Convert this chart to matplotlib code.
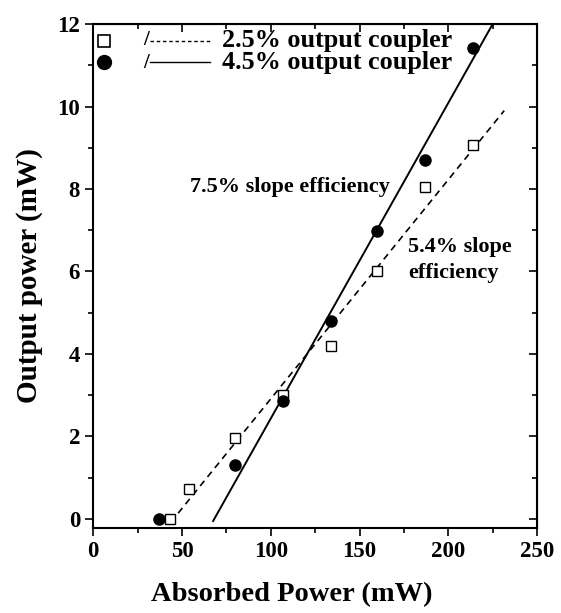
import numpy as np
import matplotlib
matplotlib.use('Agg')
import matplotlib.pyplot as plt
from matplotlib.ticker import MultipleLocator

# Dane
p_abs_25 = [43, 54, 80, 107, 134, 160, 187, 214]
p_out_25 = [0.0, 0.72, 1.97, 3.0, 4.2, 6.02, 8.04, 9.07]
p_abs_45 = [37, 80, 107, 134, 160, 187, 214]
p_out_45 = [0.0, 1.3, 2.85, 4.8, 6.97, 8.7, 11.42]

# Proste dopasowania (końce odcinków)
fit_x_25 = [47.8, 231.5]
fit_y_25 = [0.14, 9.9]
fit_x_45 = [67.5, 225.0]
fit_y_45 = [-0.05, 12.0]

legend_labels = ['2.5% output coupler', '4.5% output coupler']

plt.rcParams['font.family'] = ['Liberation Serif', 'DejaVu Serif']
plt.rcParams['font.weight'] = 'bold'

fig = plt.figure(figsize=(5.61, 6.13), dpi=100)
ax = fig.add_axes([0.1663, 0.1386, 0.791, 0.8222])

ax.plot(fit_x_25, fit_y_25, color='black', lw=1.2, ls=(0, (4, 3)))
ax.plot(fit_x_45, fit_y_45, color='black', lw=1.4, ls='-')
ax.plot(p_abs_25, p_out_25, ls='none', marker='s', ms=7.2, mfc='white',
        mec='black', mew=1.0)
ax.plot(p_abs_45, p_out_45, ls='none', marker='o', ms=8, mfc='black',
        mec='black')

ax.set_xlim(0, 250)
ax.set_ylim(-0.22, 12)
ax.xaxis.set_major_locator(MultipleLocator(50))
ax.xaxis.set_minor_locator(MultipleLocator(25))
ax.yaxis.set_major_locator(MultipleLocator(2))
ax.yaxis.set_minor_locator(MultipleLocator(1))
ax.tick_params(which='both', direction='out', width=1.2)
ax.tick_params(which='major', length=6, labelsize=16.5)
ax.tick_params(which='minor', length=3.5)

# górna i prawa oś z kreskami do środka
for spine in ax.spines.values():
    spine.set_linewidth(1.5)
top = ax.secondary_xaxis('top')
top.xaxis.set_major_locator(MultipleLocator(50))
top.xaxis.set_minor_locator(MultipleLocator(25))
top.tick_params(which='both', direction='in', labeltop=False, width=1.2)
top.tick_params(which='major', length=6)
top.tick_params(which='minor', length=3.5)
right = ax.secondary_yaxis('right')
right.yaxis.set_major_locator(MultipleLocator(2))
right.yaxis.set_minor_locator(MultipleLocator(1))
right.tick_params(which='both', direction='in', labelright=False, width=1.2)
right.tick_params(which='major', length=6)
right.tick_params(which='minor', length=3.5)

ax.set_xlabel('Absorbed Power (mW)', fontsize=20.5, fontweight='bold')
ax.xaxis.set_label_coords(0.448, -0.107)
ax.set_ylabel('Output power (mW)', fontsize=21, fontweight='bold', labelpad=10)

# Legenda rysowana ręcznie
tr = ax.transAxes
rows = [0.966, 0.925]
ax.plot([0.024], [rows[0]], transform=tr, marker='s', ms=9, mfc='white',
        mec='black', mew=1.2, ls='none')
ax.plot([0.024], [rows[1]], transform=tr, marker='o', ms=10, color='black',
        ls='none')
for row, style in zip(rows, [(0, (2.5, 2)), '-']):
    ax.plot([0.128, 0.263], [row, row], transform=tr, color='black', lw=1.0,
            ls=style)
ax.text(0.118, np.mean(rows), '/\n/', transform=tr, ha='center', va='center',
        fontsize=15, linespacing=1.17)
ax.text(0.29, np.mean(rows), '\n'.join(legend_labels), transform=tr,
        ha='left', va='center', fontsize=18.8, fontweight='bold',
        linespacing=0.97)

ax.text(167, 8.05, '7.5% slope efficiency', ha='right', va='center',
        fontsize=16, fontweight='bold')
ax.text(177.5, 6.28, '5.4% slope\nefficiency', ha='left', va='center',
        fontsize=16, fontweight='bold', linespacing=1.35)

fig.savefig('out.png', dpi=100)
